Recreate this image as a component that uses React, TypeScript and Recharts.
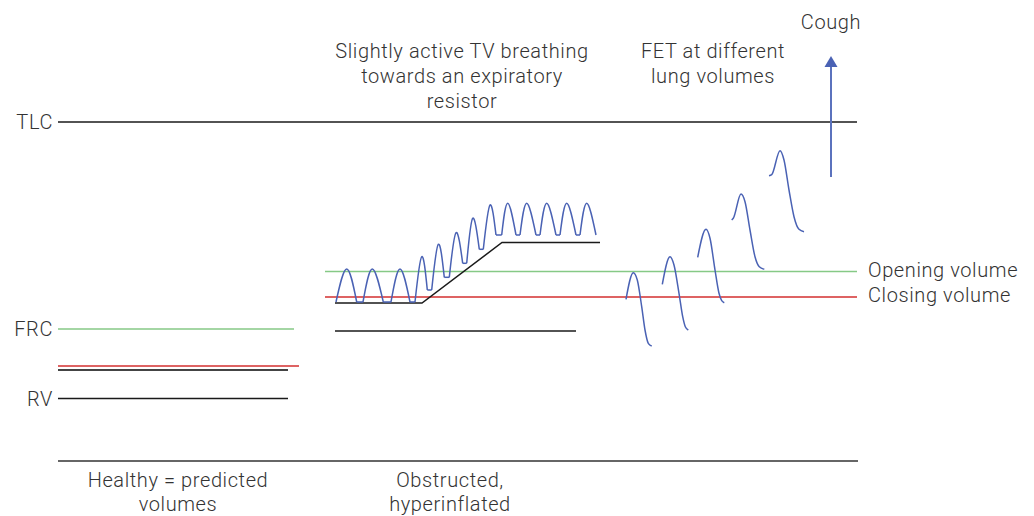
import React from 'react';
import { ComposedChart, Line, Scatter, XAxis, YAxis } from 'recharts';

type P = { x: number; y: number };
type L = { x: number; y: number; text: string };

// Horizontal volume levels (x from left, y measured from the top of the figure)
const tlcLevel: P[] = [{ x: 58, y: 122 }, { x: 857, y: 122 }];
const baseLevel: P[] = [{ x: 58, y: 461 }, { x: 858, y: 461 }];
const healthyFrc: P[] = [{ x: 58, y: 329 }, { x: 294, y: 329 }];
const healthyClosing: P[] = [{ x: 58, y: 366 }, { x: 299, y: 366 }];
const healthyEndExp: P[] = [{ x: 58, y: 370 }, { x: 288, y: 370 }];
const healthyRv: P[] = [{ x: 58, y: 398.5 }, { x: 288, y: 398.5 }];
const openingVolume: P[] = [{ x: 325, y: 271.5 }, { x: 857, y: 271.5 }];
const closingVolume: P[] = [{ x: 325, y: 297 }, { x: 857, y: 297 }];
const obstructedFrc: P[] = [{ x: 335, y: 331 }, { x: 576, y: 331 }];
const resistorBase: P[] = [
  { x: 335, y: 303 }, { x: 422, y: 303 }, { x: 502, y: 242.5 }, { x: 600, y: 242.5 },
];

// Tidal breaths (each: start, peak, end)
const tvBreaths: P[][] = [
  [{ x: 336, y: 302 }, { x: 346.7, y: 269 }, { x: 356.7, y: 302 }],
  [{ x: 363, y: 302 }, { x: 372.3, y: 269 }, { x: 383.3, y: 302 }],
  [{ x: 391, y: 302 }, { x: 400, y: 269 }, { x: 410, y: 302 }],
  [{ x: 415, y: 302 }, { x: 421.7, y: 256.7 }, { x: 427.3, y: 290 }],
  [{ x: 431.7, y: 290 }, { x: 438.3, y: 244.3 }, { x: 444.3, y: 277.3 }],
  [{ x: 449.3, y: 277.3 }, { x: 456, y: 232.7 }, { x: 462.7, y: 263.3 }],
  [{ x: 466.7, y: 263.3 }, { x: 472.7, y: 218.3 }, { x: 479.3, y: 249.3 }],
  [{ x: 483.3, y: 249.3 }, { x: 490, y: 205 }, { x: 496, y: 235 }],
  [{ x: 501.7, y: 235 }, { x: 507.7, y: 203.3 }, { x: 516, y: 235 }],
  [{ x: 520, y: 235 }, { x: 526.7, y: 203.3 }, { x: 536, y: 235 }],
  [{ x: 540, y: 235 }, { x: 546.7, y: 203.3 }, { x: 556, y: 235 }],
  [{ x: 560, y: 235 }, { x: 566.7, y: 203.3 }, { x: 576, y: 235 }],
  [{ x: 580, y: 235 }, { x: 586.7, y: 203.3 }, { x: 596, y: 235 }],
];

// End-expiratory pauses between breaths
const tvPauses: P[][] = [
  [{ x: 356.7, y: 302 }, { x: 363, y: 302 }],
  [{ x: 383.3, y: 302 }, { x: 391, y: 302 }],
  [{ x: 410, y: 302 }, { x: 415, y: 302 }],
  [{ x: 427.3, y: 290 }, { x: 431.7, y: 290 }],
  [{ x: 444.3, y: 277.3 }, { x: 449.3, y: 277.3 }],
  [{ x: 462.7, y: 263.3 }, { x: 466.7, y: 263.3 }],
  [{ x: 479.3, y: 249.3 }, { x: 483.3, y: 249.3 }],
  [{ x: 496, y: 235 }, { x: 501.7, y: 235 }],
  [{ x: 516, y: 235 }, { x: 520, y: 235 }],
  [{ x: 536, y: 235 }, { x: 540, y: 235 }],
  [{ x: 556, y: 235 }, { x: 560, y: 235 }],
  [{ x: 576, y: 235 }, { x: 580, y: 235 }],
];

// Forced expiration technique manoeuvres at increasing lung volumes
const fetCurves: P[][] = [
  [{ x: 626, y: 299.3 }, { x: 633.3, y: 272.7 }, { x: 637.3, y: 280 }, { x: 641.7, y: 306.7 }, { x: 645, y: 330 }, { x: 648.3, y: 343.3 }, { x: 651.7, y: 346 }],
  [{ x: 662.3, y: 284.3 }, { x: 670, y: 256.7 }, { x: 674, y: 265 }, { x: 679, y: 293.3 }, { x: 682.7, y: 316.7 }, { x: 685.3, y: 326.7 }, { x: 688.3, y: 330 }],
  [{ x: 697.7, y: 257.3 }, { x: 706, y: 229.3 }, { x: 710, y: 238.3 }, { x: 715, y: 270 }, { x: 719, y: 293.3 }, { x: 721.7, y: 300.7 }, { x: 724.3, y: 302.7 }],
  [{ x: 731.7, y: 220 }, { x: 733.3, y: 218.3 }, { x: 741, y: 194 }, { x: 745, y: 201.7 }, { x: 750, y: 230 }, { x: 755, y: 256.7 }, { x: 759.3, y: 266.7 }, { x: 764.3, y: 269.3 }],
  [{ x: 769, y: 175.7 }, { x: 771.7, y: 174.7 }, { x: 780, y: 150.7 }, { x: 784, y: 160 }, { x: 789, y: 190 }, { x: 794, y: 216.7 }, { x: 799, y: 229.3 }, { x: 804, y: 231.7 }],
];

const coughShaft: P[] = [{ x: 831, y: 177 }, { x: 831, y: 66 }];
const coughTip: P[] = [{ x: 831, y: 56 }];

const centeredLabels: L[] = [
  { x: 831, y: 29, text: 'Cough' },
  { x: 462, y: 58, text: 'Slightly active TV breathing' },
  { x: 462, y: 83, text: 'towards an expiratory' },
  { x: 462, y: 108, text: 'resistor' },
  { x: 713, y: 58, text: 'FET at different' },
  { x: 713, y: 83, text: 'lung volumes' },
  { x: 178, y: 487, text: 'Healthy = predicted' },
  { x: 178, y: 511, text: 'volumes' },
  { x: 450, y: 487, text: 'Obstructed,' },
  { x: 450, y: 511, text: 'hyperinflated' },
];
const levelLabels: L[] = [
  { x: 53, y: 129, text: 'TLC' },
  { x: 53, y: 336, text: 'FRC' },
  { x: 53, y: 406, text: 'RV' },
];
const sideLabels: L[] = [
  { x: 868, y: 277, text: 'Opening volume' },
  { x: 868, y: 302, text: 'Closing volume' },
];

const FONT = 'Roboto, "DejaVu Sans", sans-serif';
const TEXT = '#333333';
const BLUE = '#4a62b4';

const textShape = (anchor: 'start' | 'middle' | 'end') => (props: any) => (
  <text
    x={props.cx}
    y={props.cy}
    textAnchor={anchor}
    fontFamily={FONT}
    fontSize={20}
    fontWeight={300}
    letterSpacing={0.6}
    fill={TEXT}
  >
    {props.payload.text}
  </text>
);

const arrowShape = (props: any) => (
  <path
    d={`M${props.cx},${props.cy} L${props.cx - 6.5},${props.cy + 11} L${props.cx + 6.5},${props.cy + 11} Z`}
    fill={BLUE}
  />
);

const seg = (key: string, data: P[], stroke: string, width: number, type: any = 'linear') => (
  <Line
    key={key}
    data={data}
    dataKey="y"
    type={type}
    stroke={stroke}
    strokeWidth={width}
    dot={false}
    activeDot={false}
    isAnimationActive={false}
  />
);

export default function App() {
  return (
    <div style={{ position: 'absolute', left: 0, top: 0, background: '#fff' }}>
      <ComposedChart width={1034} height={516} margin={{ top: 0, right: 0, bottom: 0, left: 0 }}>
        <XAxis type="number" dataKey="x" domain={[0, 1034]} hide allowDataOverflow />
        <YAxis type="number" dataKey="y" domain={[0, 516]} reversed hide allowDataOverflow />
        {seg('tlc', tlcLevel, '#1a1a1a', 1.5)}
        {seg('base', baseLevel, '#666666', 2)}
        {seg('hfrc', healthyFrc, '#86c986', 1.5)}
        {seg('hcl', healthyClosing, '#de6363', 2)}
        {seg('hend', healthyEndExp, '#444444', 2)}
        {seg('hrv', healthyRv, '#1a1a1a', 1.5)}
        {seg('open', openingVolume, '#86c986', 1.5)}
        {seg('close', closingVolume, '#de6363', 2)}
        {seg('ofrc', obstructedFrc, '#1a1a1a', 1.5)}
        {seg('rbase', resistorBase, '#1a1a1a', 1.5)}
        {tvBreaths.map((b, i) => seg('tv' + i, b, BLUE, 1.5, 'natural'))}
        {tvPauses.map((b, i) => seg('tp' + i, b, BLUE, 1.5))}
        {fetCurves.map((b, i) => seg('fet' + i, b, BLUE, 1.5, 'monotone'))}
        {seg('cough', coughShaft, '#5b72bd', 2)}
        <Scatter data={coughTip} dataKey="y" shape={arrowShape} isAnimationActive={false} />
        <Scatter data={centeredLabels} dataKey="y" shape={textShape('middle')} isAnimationActive={false} />
        <Scatter data={levelLabels} dataKey="y" shape={textShape('end')} isAnimationActive={false} />
        <Scatter data={sideLabels} dataKey="y" shape={textShape('start')} isAnimationActive={false} />
      </ComposedChart>
    </div>
  );
}
